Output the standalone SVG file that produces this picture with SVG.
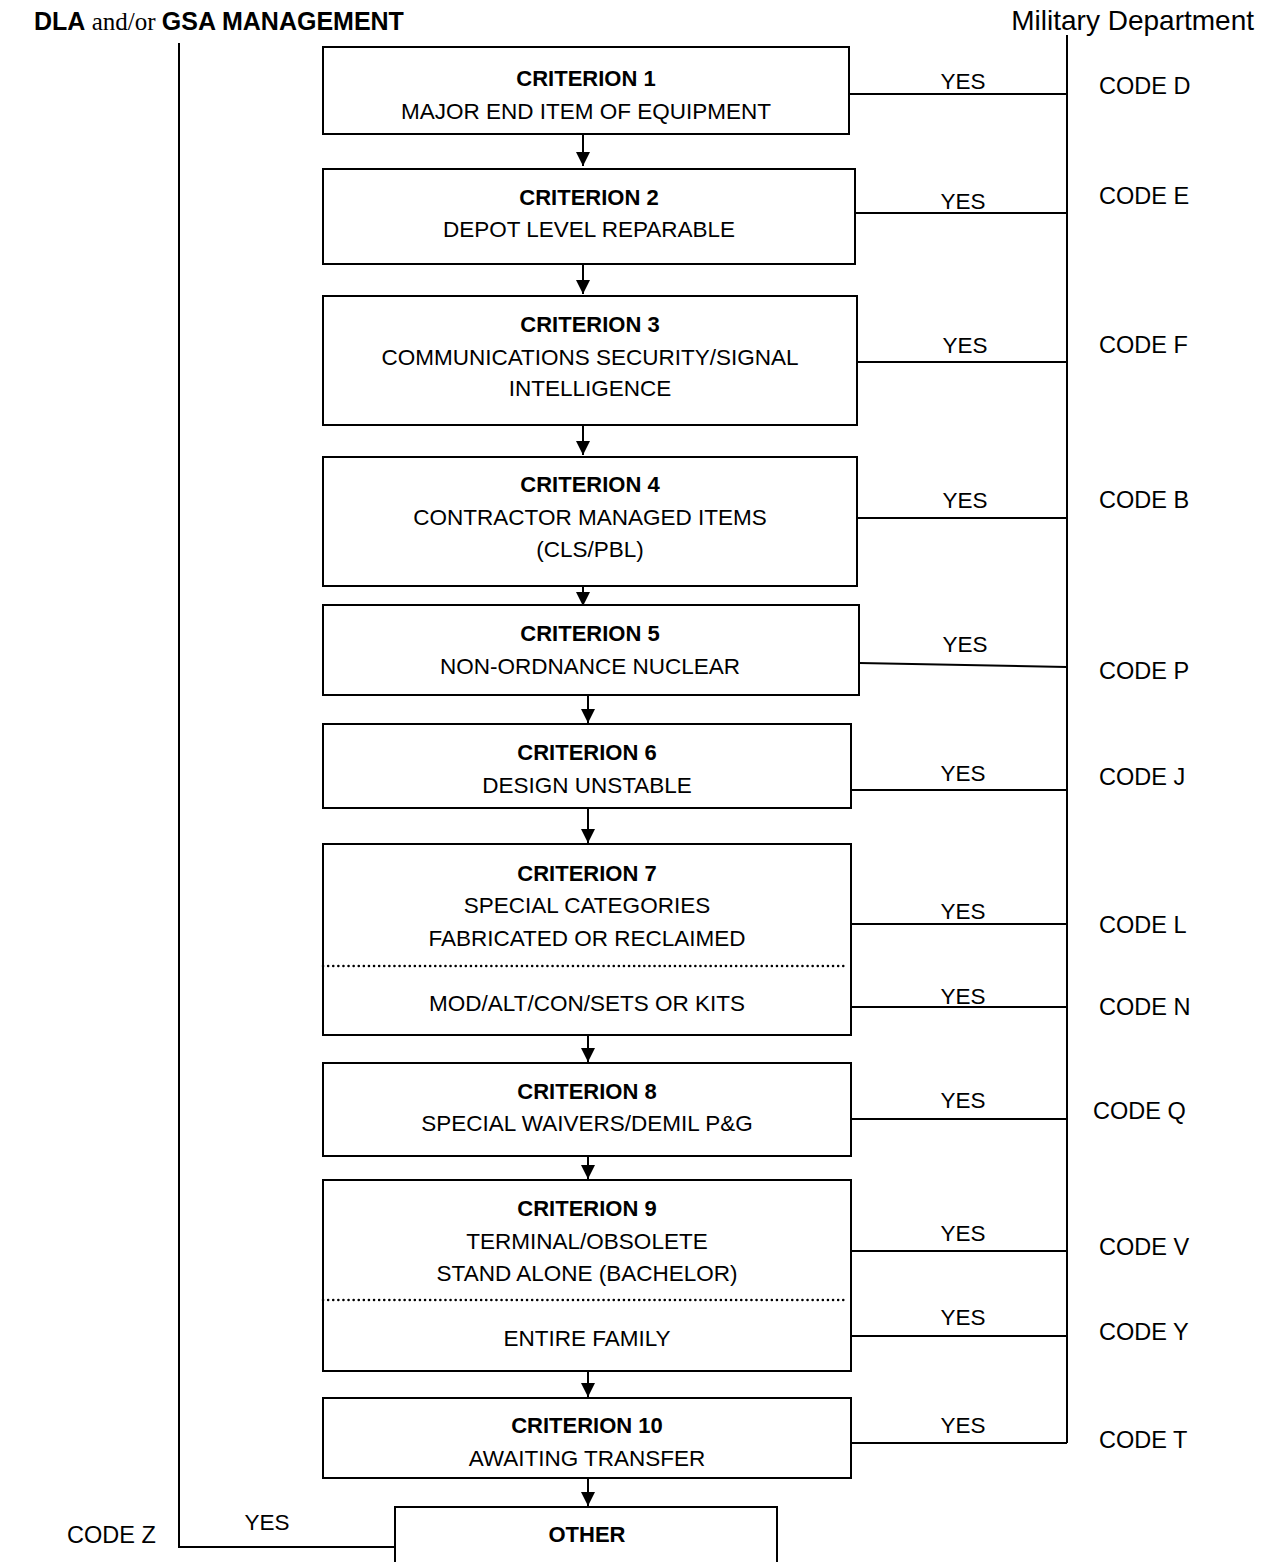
<svg xmlns="http://www.w3.org/2000/svg" width="1269" height="1562" viewBox="0 0 1269 1562">
<defs>
<marker id="ah" viewBox="0 0 14 14" refX="14" refY="7" markerWidth="14" markerHeight="14" markerUnits="userSpaceOnUse" orient="auto">
<path d="M0,0 L14,7 L0,14 Z" fill="#000"/>
</marker>
<style>
.box{fill:#fff;stroke:#000;stroke-width:2}
.ln{fill:none;stroke:#000;stroke-width:2}
.dot{fill:none;stroke:#000;stroke-width:2.5;stroke-dasharray:0.1 5;stroke-linecap:round}
.arr{fill:none;stroke:#000;stroke-width:2;marker-end:url(#ah)}
text{font-family:"Liberation Sans",Arial,sans-serif;font-size:22.5px;fill:#000}
.t{text-anchor:middle}
.b{font-weight:bold;font-size:22px}
.code{font-size:23.5px}
.serif{font-family:"Liberation Serif","Times New Roman",serif;font-weight:normal}
</style>
</defs>
<rect width="1269" height="1562" fill="#fff"/>

<g id="header-left"><text x="34" y="30" style="font-size:25px"><tspan class="b" style="font-size:25px">DLA</tspan><tspan class="serif"> and/or </tspan><tspan class="b" style="font-size:25px">GSA MANAGEMENT</tspan></text></g>
<g id="header-right"><text x="1254" y="30" style="text-anchor:end;font-size:28px">Military Department</text></g>

<g id="connectors">
<path class="ln" d="M179,43 V1547 H395"/>
<path class="ln" d="M1067,35 V1443"/>
<path class="ln" d="M849,94 H1067"/>
<path class="ln" d="M855,213 H1067"/>
<path class="ln" d="M857,362 H1067"/>
<path class="ln" d="M857,518 H1067"/>
<path class="ln" d="M859,663 L1067,667"/>
<path class="ln" d="M851,790 H1067"/>
<path class="ln" d="M851,924 H1067"/>
<path class="ln" d="M851,1007 H1067"/>
<path class="ln" d="M851,1119 H1067"/>
<path class="ln" d="M851,1251 H1067"/>
<path class="ln" d="M851,1336 H1067"/>
<path class="ln" d="M851,1443 H1067"/>
<path class="arr" d="M583,134 V166"/>
<path class="arr" d="M583,264 V294"/>
<path class="arr" d="M583,425 V455"/>
<path class="arr" d="M583,586 V606"/>
<path class="arr" d="M588,695 V723"/>
<path class="arr" d="M588,808 V843"/>
<path class="arr" d="M588,1035 V1062"/>
<path class="arr" d="M588,1156 V1179"/>
<path class="arr" d="M588,1371 V1397"/>
<path class="arr" d="M588,1478 V1506"/>
</g>

<g id="labels">
<text class="t" x="963" y="89">YES</text>
<text class="t" x="963" y="209">YES</text>
<text class="t" x="965" y="353">YES</text>
<text class="t" x="965" y="508">YES</text>
<text class="t" x="965" y="652">YES</text>
<text class="t" x="963" y="781">YES</text>
<text class="t" x="963" y="919">YES</text>
<text class="t" x="963" y="1004">YES</text>
<text class="t" x="963" y="1108">YES</text>
<text class="t" x="963" y="1241">YES</text>
<text class="t" x="963" y="1325">YES</text>
<text class="t" x="963" y="1433">YES</text>
<text class="t" x="267" y="1530">YES</text>
<text class="code" x="1099" y="94">CODE D</text>
<text class="code" x="1099" y="204">CODE E</text>
<text class="code" x="1099" y="353">CODE F</text>
<text class="code" x="1099" y="508">CODE B</text>
<text class="code" x="1099" y="679">CODE P</text>
<text class="code" x="1099" y="785">CODE J</text>
<text class="code" x="1099" y="933">CODE L</text>
<text class="code" x="1099" y="1015">CODE N</text>
<text class="code" x="1093" y="1119">CODE Q</text>
<text class="code" x="1099" y="1255">CODE V</text>
<text class="code" x="1099" y="1340">CODE Y</text>
<text class="code" x="1099" y="1448">CODE T</text>
<text class="code" x="67" y="1543">CODE Z</text>
</g>

<g id="c1"><rect class="box" x="323" y="47" width="526" height="87"/>
<text class="t b" x="586" y="86">CRITERION 1</text>
<text class="t" x="586" y="119">MAJOR END ITEM OF EQUIPMENT</text></g>

<g id="c2"><rect class="box" x="323" y="169" width="532" height="95"/>
<text class="t b" x="589" y="205">CRITERION 2</text>
<text class="t" x="589" y="237">DEPOT LEVEL REPARABLE</text></g>

<g id="c3"><rect class="box" x="323" y="296" width="534" height="129"/>
<text class="t b" x="590" y="332">CRITERION 3</text>
<text class="t" x="590" y="365">COMMUNICATIONS SECURITY/SIGNAL</text>
<text class="t" x="590" y="396">INTELLIGENCE</text></g>

<g id="c4"><rect class="box" x="323" y="457" width="534" height="129"/>
<text class="t b" x="590" y="492">CRITERION 4</text>
<text class="t" x="590" y="525">CONTRACTOR MANAGED ITEMS</text>
<text class="t" x="590" y="557">(CLS/PBL)</text></g>

<g id="c5"><rect class="box" x="323" y="605" width="536" height="90"/>
<text class="t b" x="590" y="641">CRITERION 5</text>
<text class="t" x="590" y="674">NON-ORDNANCE NUCLEAR</text></g>

<g id="c6"><rect class="box" x="323" y="724" width="528" height="84"/>
<text class="t b" x="587" y="760">CRITERION 6</text>
<text class="t" x="587" y="793">DESIGN UNSTABLE</text></g>

<g id="c7"><rect class="box" x="323" y="844" width="528" height="191"/>
<text class="t b" x="587" y="881">CRITERION 7</text>
<text class="t" x="587" y="913">SPECIAL CATEGORIES</text>
<text class="t" x="587" y="946">FABRICATED OR RECLAIMED</text>
<path class="dot" d="M323,966 H848"/>
<text class="t" x="587" y="1011">MOD/ALT/CON/SETS OR KITS</text></g>

<g id="c8"><rect class="box" x="323" y="1063" width="528" height="93"/>
<text class="t b" x="587" y="1099">CRITERION 8</text>
<text class="t" x="587" y="1131">SPECIAL WAIVERS/DEMIL P&amp;G</text></g>

<g id="c9"><rect class="box" x="323" y="1180" width="528" height="191"/>
<text class="t b" x="587" y="1216">CRITERION 9</text>
<text class="t" x="587" y="1249">TERMINAL/OBSOLETE</text>
<text class="t" x="587" y="1281">STAND ALONE (BACHELOR)</text>
<path class="dot" d="M323,1300 H848"/>
<text class="t" x="587" y="1346">ENTIRE FAMILY</text></g>

<g id="c10"><rect class="box" x="323" y="1398" width="528" height="80"/>
<text class="t b" x="587" y="1433">CRITERION 10</text>
<text class="t" x="587" y="1466">AWAITING TRANSFER</text></g>

<g id="other"><rect class="box" x="395" y="1507" width="382" height="70"/>
<text class="t b" x="587" y="1542">OTHER</text></g>
</svg>
